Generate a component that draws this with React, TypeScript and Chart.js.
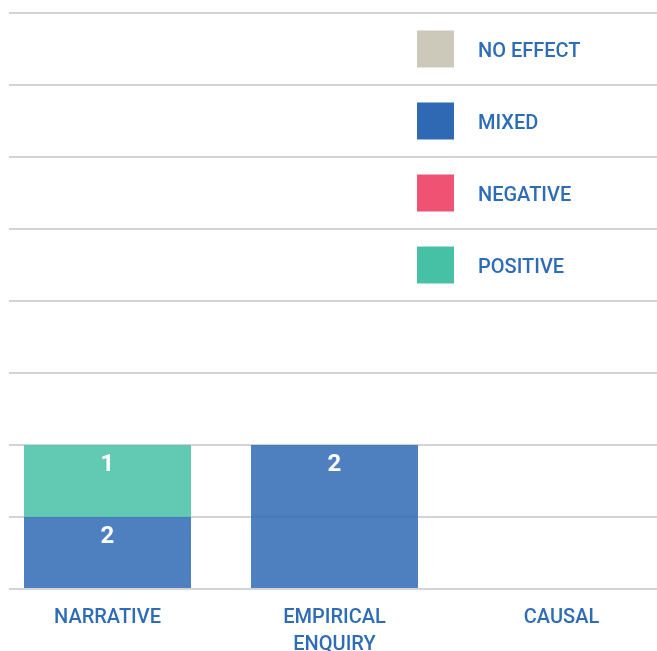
import React, { useEffect, useRef } from "react";
import { Chart, registerables } from "chart.js";

Chart.register(...registerables);

const categories = [["NARRATIVE"], ["EMPIRICAL", "ENQUIRY"], ["CAUSAL"]];
const mixedValues = [1, 2, 0];
const positiveValues = [1, 0, 0];
const negativeValues = [0, 0, 0];
const noEffectValues = [0, 0, 0];
const mixedLabels = ["2", "2", ""];
const positiveLabels = ["1", "", ""];
const negativeLabels = ["", "", ""];
const noEffectLabels = ["", "", ""];
const legendLabels = ["NO EFFECT", "MIXED", "NEGATIVE", "POSITIVE"];
const legendColors = ["#CCC9BB", "#2F69B3", "#F05273", "#47C1A6"];
const yMax = 8;

const TEXT = "#2E6CB5";
const FONT = "Roboto, 'DejaVu Sans', sans-serif";

const fade = (hex: string, a: number) => {
  const r = parseInt(hex.slice(1, 3), 16);
  const g = parseInt(hex.slice(3, 5), 16);
  const b = parseInt(hex.slice(5, 7), 16);
  return `rgba(${r},${g},${b},${a})`;
};

const valueLabelPlugin = {
  id: "valueLabels",
  afterDatasetsDraw(chart: any) {
    const ctx = chart.ctx;
    chart.data.datasets.forEach((ds: any, di: number) => {
      const meta = chart.getDatasetMeta(di);
      meta.data.forEach((el: any, i: number) => {
        const t = ds.valueLabels ? ds.valueLabels[i] : "";
        if (!t) return;
        ctx.save();
        ctx.fillStyle = "#ffffff";
        ctx.font = `bold 24px ${FONT}`;
        ctx.textAlign = "center";
        ctx.textBaseline = "middle";
        ctx.fillText(t, el.x, el.y + 20);
        ctx.restore();
      });
    });
  },
};

const legendPlugin = {
  id: "boxLegend",
  afterDraw(chart: any) {
    const ctx = chart.ctx;
    const y = chart.scales.y;
    const left = chart.chartArea.left;
    legendLabels.forEach((label, i) => {
      const cy = y.getPixelForValue(yMax - 0.5 - i);
      ctx.save();
      ctx.fillStyle = legendColors[i];
      ctx.fillRect(left + 423, cy - 18.5, 37, 37);
      ctx.fillStyle = TEXT;
      ctx.font = `500 20px ${FONT}`;
      ctx.textAlign = "left";
      ctx.textBaseline = "middle";
      ctx.fillText(label, left + 484, cy + 2.5);
      ctx.restore();
    });
  },
};

export default function App() {
  const ref = useRef<HTMLCanvasElement>(null);
  useEffect(() => {
    if (!ref.current) return;
    const mk = (label: string, data: number[], color: string, labels: string[]) => ({
      label,
      data,
      backgroundColor: fade(color, 0.85),
      borderWidth: 0,
      valueLabels: labels,
      categoryPercentage: 1,
      barPercentage: 0.7357,
    });
    const chart = new Chart(ref.current, {
      type: "bar",
      data: {
        labels: categories as any,
        datasets: [
          mk("MIXED", mixedValues, legendColors[1], mixedLabels),
          mk("POSITIVE", positiveValues, legendColors[3], positiveLabels),
          mk("NEGATIVE", negativeValues, legendColors[2], negativeLabels),
          mk("NO EFFECT", noEffectValues, legendColors[0], noEffectLabels),
        ] as any,
      },
      options: {
        animation: false,
        responsive: false,
        layout: { padding: { top: 5, left: 0, right: 0, bottom: 0 } },
        plugins: { legend: { display: false }, tooltip: { enabled: false } },
        scales: {
          x: {
            stacked: true,
            grid: { display: false },
            border: { display: false },
            ticks: {
              color: TEXT,
              font: { family: FONT, size: 20, weight: "500", lineHeight: 1.35 },
              padding: 7,
              maxRotation: 0,
              autoSkip: false,
            },
            afterFit: (s: any) => {
              s.height = 62;
            },
          },
          y: {
            stacked: true,
            min: 0,
            max: yMax,
            ticks: { display: false, stepSize: 1 },
            border: { display: false },
            grid: { color: "#d3d3da", lineWidth: 2, drawTicks: false },
            afterFit: (s: any) => {
              s.width = 0;
            },
          },
        },
      },
      plugins: [valueLabelPlugin, legendPlugin],
    });
    return () => chart.destroy();
  }, []);
  return (
    <div
      style={{
        position: "fixed",
        left: 9,
        top: 8,
        width: 648,
        height: 643,
        overflow: "hidden",
      }}
    >
      <div style={{ marginLeft: -15, width: 681, height: 643 }}>
        <canvas ref={ref} width={681} height={643} style={{ display: "block" }} />
      </div>
    </div>
  );
}
